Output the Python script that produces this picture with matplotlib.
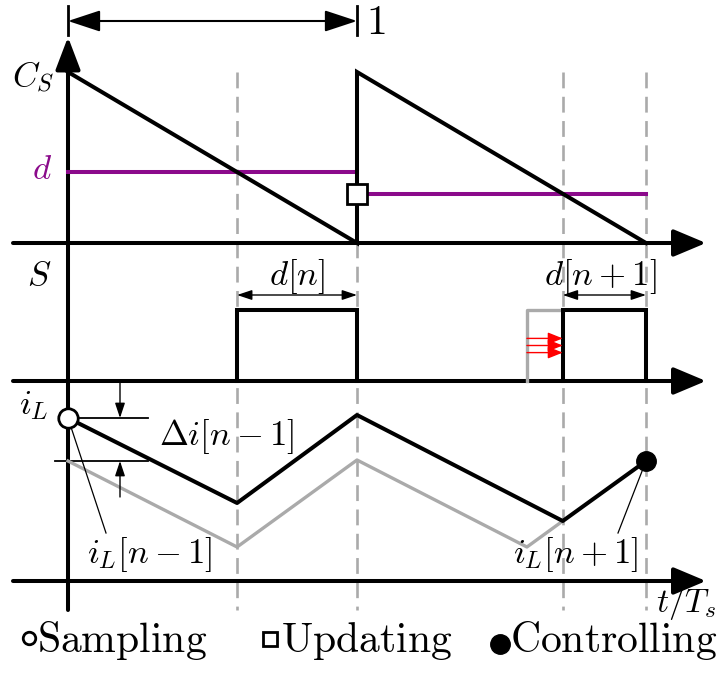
import matplotlib
matplotlib.use('Agg')
import matplotlib.pyplot as plt

plt.rcParams['mathtext.fontset'] = 'cm'
plt.rcParams['font.family'] = ['DejaVu Serif']

# ---------------- data (t in units of T_s) ----------------
t_period = [0.0, 1.0, 2.0]            # sampling / update instants
carrier_peak = 1.0                    # C_S
duty = [0.415, 0.288]                 # d[n], d[n+1]
t_on = [0.585, 1.712]                 # switch-on instants
t_on_prev = 1.588                     # switch-on instant before the update
switch_high = 1.0
iL_t = [0.0, 0.585, 1.0, 1.712, 2.0]
iL = [1.63, 0.78, 1.66, 0.60, 1.20]
iL_gray_t = [0.0, 0.585, 1.0, 1.588, 1.712]
iL_gray = [1.20, 0.34, 1.21, 0.34, 0.60]
shift_levels = [0.60, 0.50, 0.40]
legend_labels = ['Sampling', 'Updating', 'Controlling']

# ---------------- layout ----------------
W, H = 726, 679
X0, TS = 68, 289
def X(px):
    return (px - X0) / TS
B_CS, K_CS = 243, 171
B_S, K_S = 381, 71
B_IL, K_IL = 581, 100
ycs = lambda v: B_CS - K_CS * v
ys = lambda v: B_S - K_S * v
yil = lambda v: B_IL - K_IL * v

PURPLE = '#8b0a8b'
GRAY = '#aaaaaa'
LW = 2.9

fig = plt.figure(figsize=(W / 100, H / 100), dpi=100)
ax = fig.add_axes([0, 0, 1, 1])
ax.set_xlim(X(0), X(W))
ax.set_ylim(H, 0)
ax.axis('off')

# dashed guides
for t in [t_on[0], t_period[1], t_on[1], t_period[2]]:
    ax.plot([t, t], [ycs(carrier_peak), 610], color=GRAY, lw=1.9,
            dashes=(6, 3.2), zorder=1)

# time axes
for B in [B_CS, B_S, B_IL]:
    ax.annotate('', xy=(X(706), B), xytext=(X(13), B),
                arrowprops=dict(arrowstyle='-|>,head_length=1.0,head_width=0.42',
                                lw=LW, color='k', shrinkA=0, shrinkB=0,
                                mutation_scale=20), zorder=3)
# vertical axis
ax.annotate('', xy=(0, 37), xytext=(0, 610),
            arrowprops=dict(arrowstyle='-|>,head_length=1.0,head_width=0.38',
                            lw=LW, color='k', shrinkA=0, shrinkB=0,
                            mutation_scale=20), zorder=3)

# top span arrow
ax.annotate('', xy=(t_period[1], 21), xytext=(t_period[0], 21),
            arrowprops=dict(arrowstyle='<|-|>,head_length=1.0,head_width=0.33',
                            lw=1.5, color='k', shrinkA=0, shrinkB=0,
                            mutation_scale=20), zorder=3)
for t in t_period[:2]:
    ax.plot([t, t], [6, 35], color='k', lw=2)
ax.text(X(366), 22, r'$1$', fontsize=30, ha='left', va='center')

# carrier sawtooth
ax.plot([t_period[0], t_period[1], t_period[1], t_period[2]],
        [ycs(carrier_peak), ycs(0), ycs(carrier_peak), ycs(0)],
        color='k', lw=LW, zorder=4, solid_joinstyle='miter')
# duty levels
ax.plot([t_period[0], t_period[1]], [ycs(duty[0])] * 2, color=PURPLE, lw=LW, zorder=3)
ax.plot([t_period[1], t_period[2]], [ycs(duty[1])] * 2, color=PURPLE, lw=LW, zorder=3)
ax.plot(t_period[1], ycs(duty[1]), marker='s', ms=14, mfc='w', mec='k', mew=2, zorder=6)

ax.text(X(33), 77, r'$C_S$', fontsize=25, ha='center', va='center')
ax.text(X(42), 169, r'$d$', fontsize=25, ha='center', va='center', color=PURPLE)

# switching signal
ax.plot([t_on_prev, t_on_prev, t_on[1]], [ys(0), ys(switch_high), ys(switch_high)],
        color=GRAY, lw=2.4, zorder=3)
for k in range(2):
    ax.plot([t_on[k], t_on[k], t_period[k + 1], t_period[k + 1]],
            [ys(0), ys(switch_high), ys(switch_high), ys(0)],
            color='k', lw=LW, zorder=4, solid_joinstyle='miter')
for lev in shift_levels:
    ax.annotate('', xy=(t_on[1], ys(lev)), xytext=(t_on_prev, ys(lev)),
                arrowprops=dict(arrowstyle='-|>,head_length=0.45,head_width=0.18',
                                lw=1.0, color='red', shrinkA=0, shrinkB=0,
                                mutation_scale=20), zorder=5)
for k in range(2):
    ax.annotate('', xy=(t_period[k + 1], 295), xytext=(t_on[k], 295),
                arrowprops=dict(arrowstyle='<|-|>,head_length=0.45,head_width=0.15',
                                lw=1.0, color='k', shrinkA=0, shrinkB=0,
                                mutation_scale=20), zorder=5)
ax.text(X(297), 276, r'$d[n]$', fontsize=25, ha='center', va='center')
ax.text(X(600), 276, r'$d[n+1]$', fontsize=25, ha='center', va='center')
ax.text(X(39), 275, r'$S$', fontsize=25, ha='center', va='center')

# inductor current
ax.plot(iL_gray_t, [yil(v) for v in iL_gray], color=GRAY, lw=2.4, zorder=3)
ax.plot(iL_t, [yil(v) for v in iL], color='k', lw=LW, zorder=4)
ax.plot(iL_t[0], yil(iL[0]), 'o', ms=14, mfc='w', mec='k', mew=2, zorder=6)
ax.plot(iL_t[-1], yil(iL[-1]), 'o', ms=14, color='k', zorder=6)
ax.text(X(34), 405, r'$i_L$', fontsize=25, ha='center', va='center')

# delta i annotation
ax.plot([0, X(148)], [yil(iL[0])] * 2, color='k', lw=1.3, zorder=2)
ax.plot([X(55), X(148)], [yil(iL_gray[0])] * 2, color='k', lw=1.3, zorder=2)
ax.annotate('', xy=(X(120), yil(iL[0])), xytext=(X(120), 381),
            arrowprops=dict(arrowstyle='-|>,head_length=0.45,head_width=0.15',
                            lw=1.0, color='k', shrinkA=0, shrinkB=0, mutation_scale=20))
ax.annotate('', xy=(X(120), yil(iL_gray[0])), xytext=(X(120), 497),
            arrowprops=dict(arrowstyle='-|>,head_length=0.45,head_width=0.15',
                            lw=1.0, color='k', shrinkA=0, shrinkB=0, mutation_scale=20))
ax.text(X(227), 436, r'$\Delta i[n-1]$', fontsize=25, ha='center', va='center')

# leader lines and labels
ax.plot([iL_t[0], X(106)], [yil(iL[0]), 533], color='k', lw=0.9, zorder=5)
ax.plot([iL_t[-1], X(618)], [yil(iL[-1]), 533], color='k', lw=0.9, zorder=5)
ax.text(X(150), 555, r'$i_L[n-1]$', fontsize=25, ha='center', va='center')
ax.text(X(576), 555, r'$i_L[n+1]$', fontsize=25, ha='center', va='center')
ax.text(X(686), 603, r'$t/T_s$', fontsize=24, ha='center', va='center')

# legend row
ax.plot(X(29), 638, 'o', ms=9, mfc='w', mec='k', mew=2, clip_on=False)
ax.text(X(37), 652, r'$\mathrm{%s}$' % legend_labels[0], fontsize=30, ha='left', va='baseline')
ax.plot(X(270), 639, 's', ms=10, mfc='w', mec='k', mew=2, clip_on=False)
ax.text(X(281), 652, r'$\mathrm{%s}$' % legend_labels[1], fontsize=30, ha='left', va='baseline')
ax.plot(X(500), 644, 'o', ms=14, color='k', clip_on=False)
ax.text(X(510), 652, r'$\mathrm{%s}$' % legend_labels[2], fontsize=30, ha='left', va='baseline')

fig.savefig('out.png', dpi=100)
